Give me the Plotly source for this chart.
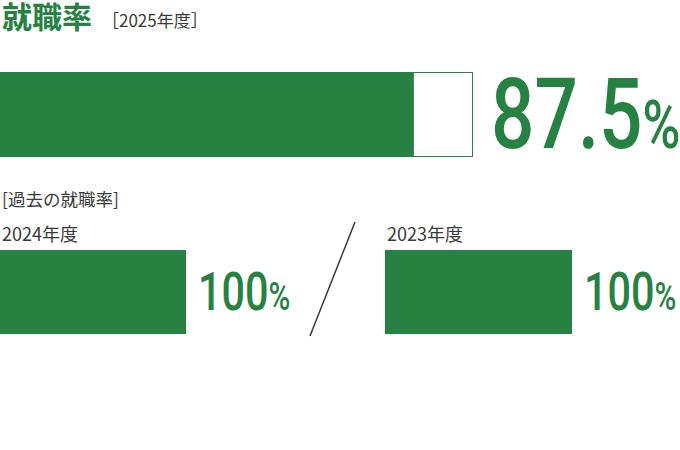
import plotly.graph_objects as go

W, H = 680, 450

# データ
title_text = "就職率"
current_year = "2025年度"
current_rate = 87.5
past_label = "過去の就職率"
past_years = ["2024年度", "2023年度"]
past_rates = [100, 100]

GREEN = "#278143"
DARK = "#3a3a3a"
NUM_FONT = "Roboto, sans-serif"
JP_FONT = "Noto Sans CJK JP, sans-serif"


def px_x(v):
    return v / W


def px_y(v):
    return 1 - v / H


fig = go.Figure()

# 2025年度（メインのバー）
fig.add_trace(go.Bar(x=[100], y=[0], orientation="h", width=1,
                     marker=dict(color="white", line=dict(color=GREEN, width=2)),
                     xaxis="x", yaxis="y", hoverinfo="skip"))
fig.add_trace(go.Bar(x=[current_rate], y=[0], orientation="h", width=1,
                     marker=dict(color=GREEN, line=dict(width=0)),
                     xaxis="x", yaxis="y"))

# 過去の就職率
past_axes = [("x2", "y2"), ("x3", "y3")]
for (xa, ya), r in zip(past_axes, past_rates):
    fig.add_trace(go.Bar(x=[r], y=[0], orientation="h", width=1,
                         marker=dict(color=GREEN, line=dict(width=0)),
                         xaxis=xa, yaxis=ya))

ax = dict(visible=False, fixedrange=True)
fig.update_layout(
    width=W, height=H,
    margin=dict(l=0, r=0, t=0, b=0),
    paper_bgcolor="white", plot_bgcolor="white",
    showlegend=False, barmode="overlay",
    xaxis=dict(ax, domain=[0, px_x(473)], range=[0, 100]),
    yaxis=dict(ax, domain=[px_y(157), px_y(72)], range=[-0.5, 0.5], anchor="x"),
    xaxis2=dict(ax, domain=[0, px_x(186)], range=[0, 100], anchor="y2"),
    yaxis2=dict(ax, domain=[px_y(334), px_y(250)], range=[-0.5, 0.5], anchor="x2"),
    xaxis3=dict(ax, domain=[px_x(385), px_x(572)], range=[0, 100], anchor="y3"),
    yaxis3=dict(ax, domain=[px_y(334), px_y(250)], range=[-0.5, 0.5], anchor="x3"),
)

ann = []
# タイトル
ann.append(dict(text="<b>" + title_text + "</b>", x=0, y=px_y(15), xref="paper", yref="paper",
                xanchor="left", yanchor="middle", showarrow=False, borderpad=0,
                font=dict(family=JP_FONT, size=30, color=GREEN), xshift=1))
ann.append(dict(text="［" + current_year + "］", x=px_x(100), y=px_y(20), xref="paper", yref="paper",
                xanchor="left", yanchor="middle", showarrow=False,
                font=dict(family=JP_FONT, size=17, color=DARK)))
ann.append(dict(text="[" + past_label + "]", x=0, y=px_y(184), xref="paper", yref="paper",
                xanchor="left", yanchor="top", showarrow=False,
                font=dict(family=JP_FONT, size=17.5, color=DARK)))

# 値ラベル（後で横方向に縮める）
squeeze_idx = []
squeeze_idx.append(len(ann))
ann.append(dict(text=f"{current_rate}<span style='font-size:66px'>%</span>",
                x=100, y=0, xref="x", yref="y", xanchor="left", yanchor="middle",
                showarrow=False, xshift=16, yshift=0,
                font=dict(family=NUM_FONT, size=98, color=GREEN, weight=500)))

year_x = [0, px_x(385)]
for (xa, ya), yr, r, yx in zip(past_axes, past_years, past_rates, year_x):
    ann.append(dict(text=yr, x=yx, y=px_y(218), xref="paper", yref="paper",
                    xanchor="left", yanchor="top", showarrow=False,
                    font=dict(family=JP_FONT, size=18, color=DARK)))
    squeeze_idx.append(len(ann))
    ann.append(dict(text=f"{r}<span style='font-size:38px'>%</span>",
                    x=100, y=0, xref=xa, yref=ya, xanchor="left", yanchor="middle",
                    showarrow=False, xshift=10, yshift=0,
                    font=dict(family=NUM_FONT, size=53, color=GREEN, weight=500)))

fig.update_layout(annotations=ann)

# 区切りのスラッシュ
fig.add_shape(type="line", xref="paper", yref="paper",
              x0=px_x(355), y0=px_y(222), x1=px_x(310), y1=px_y(336),
              line=dict(color=DARK, width=1.5))

post = """
document.body.style.margin = '0';
var gd = document.getElementById('{plot_id}');
var idx = %s;
function squeeze() {
  gd.querySelectorAll('.annotation').forEach(function (g) {
    if (idx.indexOf(+g.getAttribute('data-index')) < 0) return;
    var t = g.querySelector('text');
    t.style.transformBox = 'fill-box';
    t.style.transformOrigin = 'left center';
    t.style.transform = 'scaleX(0.78)';
  });
}
squeeze();
gd.on('plotly_afterplot', squeeze);
""" % squeeze_idx

fig.write_html("out.html", post_script=post, config={"displayModeBar": False})
